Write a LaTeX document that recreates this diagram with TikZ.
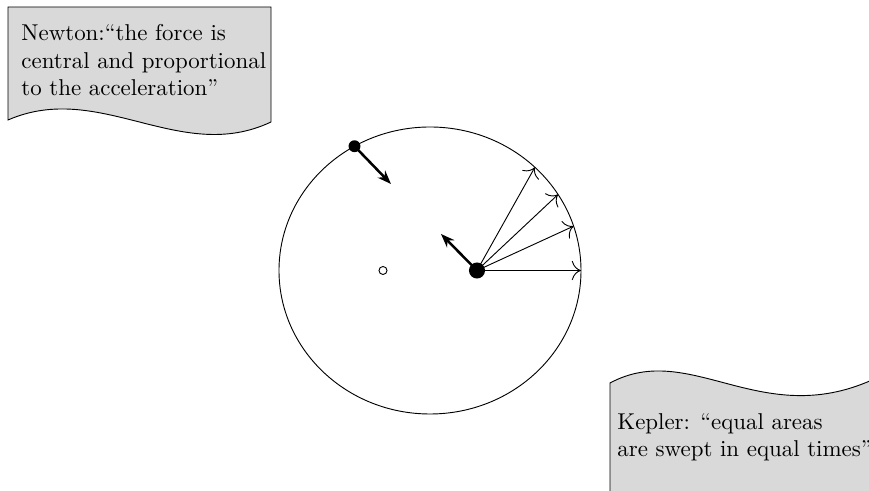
\documentclass[tikz,border=0pt]{standalone}
\usetikzlibrary{arrows.meta}
\definecolor{noteGrey}{HTML}{D9D9D9}

\begin{document}
\begin{tikzpicture}[x=0.4364pt, y=-0.4364pt]
    \useasboundingbox (0,0) rectangle (869,491);
    % the two notes
    \draw[fill=noteGrey] (8,120) .. controls (100,80) and (180,165) .. (271,122)
          -- (271,7) -- (8,7) -- cycle;
    \draw[fill=noteGrey] (610,383) .. controls (690,340) and (760,430) .. (872,380)
          -- (872,495) -- (610,495) -- cycle;
    \node[anchor=north west, inner sep=0pt, align=left] (newton) at (21,24)
          {Newton:``the force is\\central and proportional\\to the acceleration''};
    \node[anchor=north west, inner sep=0pt, align=left] (kepler) at (617,413)
          {Kepler: ``equal areas\\are swept in equal times''};
    % orbit
    \draw (430,270.5) ellipse [x radius=151, y radius=143.5];
    \node[circle, fill=black, inner sep=0pt, minimum size=7pt] (sun) at (477,270.5) {};
    \node[circle, draw, fill=white, inner sep=0pt, minimum size=3.5pt] (focus) at (383,270.5) {};
    \node[circle, fill=black, inner sep=0pt, minimum size=5.2pt] (planet)
          at ({430+151*cos(120)},{270.5-143.5*sin(120)}) {};
    \foreach \t in {0,18,32,46} {
      \coordinate (o\t) at ({430+151*cos(\t)},{270.5-143.5*sin(\t)});
      \draw[-{To[length=4pt]}] (sun.center) -- (o\t);
    }
    \coordinate (vplanet) at (391,184);
    \coordinate (fsun) at (441,234);
    \draw[-{Stealth[length=6pt]}, line width=1.1pt] (planet.center) -- (vplanet);
    \draw[-{Stealth[length=6pt]}, line width=1.1pt] (sun.center) -- (fsun);
\end{tikzpicture}
\end{document}
